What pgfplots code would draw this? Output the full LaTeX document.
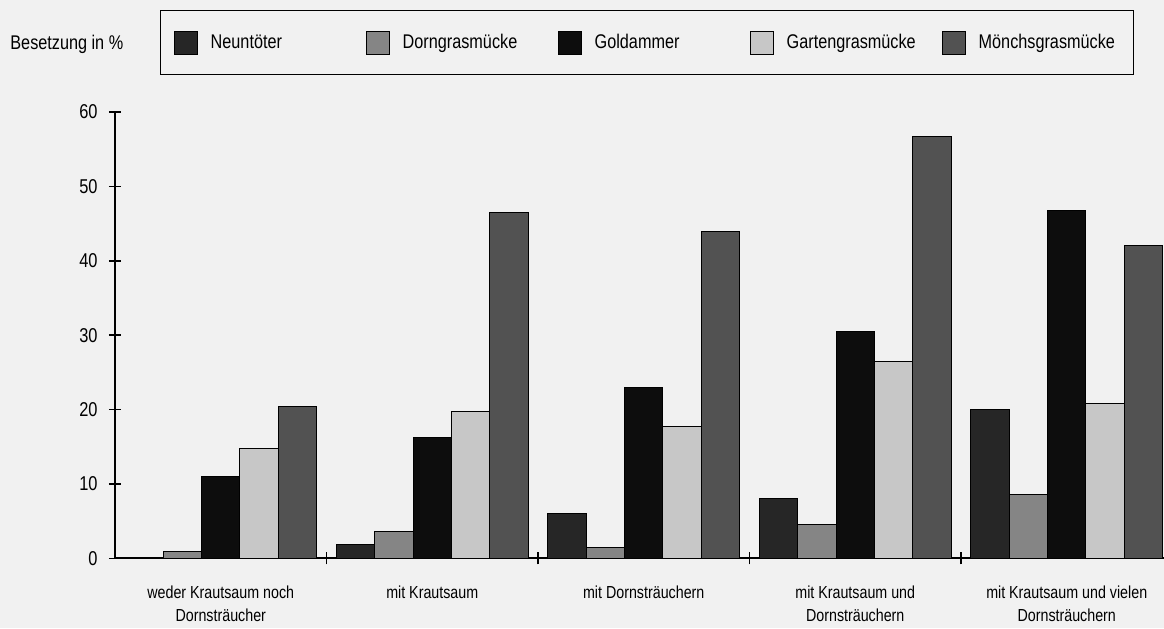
\documentclass[border=0pt]{standalone}
\usepackage{pgfplots}
\pgfplotsset{compat=1.18}
\usepackage{fontspec}
\setmainfont{Liberation Sans}[FakeStretch=0.82]
\definecolor{cNeun}{gray}{0.15}
\definecolor{cDorn}{gray}{0.52}
\definecolor{cGold}{gray}{0.05}
\definecolor{cGart}{gray}{0.78}
\definecolor{cMoen}{gray}{0.32}
\definecolor{paper}{gray}{0.945}
\begin{document}
\begin{tikzpicture}
\fill[paper] (0,0) rectangle (582pt,314pt);
\node[anchor=base west, inner sep=0pt, font=\fontsize{9.9}{12}\selectfont] at (5pt,289pt) {Besetzung in \%};
\begin{axis}[
  at={(57.5pt,34.85pt)}, anchor=south west,
  scale only axis, width=528.75pt, height=223.15pt,
  xmin=0, xmax=5, ymin=0, ymax=60,
  axis x line*=bottom, axis y line*=left,
  xtick pos=bottom, ytick pos=left,
  axis line style={-, line width=0.9pt},
  every tick/.style={black, line width=0.8pt},
  tick align=center, major tick length=6pt,
  xtick style={yshift=3pt},
  ytick={0,10,20,30,40,50,60},
  yticklabel style={font=\fontsize{10}{12}\selectfont, inner sep=0pt, xshift=-5.5pt},
  /pgf/number format/assume math mode=true,
  xtick={1,2,3,4}, xticklabels={,,,},
  extra x ticks={0.5,1.5,2.5,3.5,4.5},
  extra x tick labels={{weder Krautsaum noch\\Dornsträucher},{mit Krautsaum},{mit Dornsträuchern},{mit Krautsaum und\\Dornsträuchern},{mit Krautsaum und vielen\\Dornsträuchern}},
  extra x tick style={major tick length=0pt},
  xticklabel style={font=\fontsize{8.7}{11.5}\selectfont, align=center, inner sep=0pt, yshift=-13.35pt, anchor=north},
  ybar=0pt, bar width=0.182,
  sq legend/.style={legend image code/.code={\draw[##1, line width=0.5pt] (0pt,-5.75pt) rectangle (11.5pt,5.75pt);}},
  legend columns=5,
  legend style={at={(0.04255,1.2286)}, anchor=north west, draw=black, line width=0.7pt, fill=none,
    inner xsep=6.5pt, inner ysep=10pt, column sep=6.5pt,
    nodes={inner sep=0pt, text width=71pt, align=left, font=\fontsize{9.9}{12}\selectfont}},
]
\addplot[fill=cNeun, draw=black, line width=0.5pt, sq legend] coordinates {(0.5,0) (1.5,1.9) (2.5,6.0) (3.5,8.1) (4.5,20.0)};
\addplot[fill=cDorn, draw=black, line width=0.5pt, sq legend] coordinates {(0.5,0.9) (1.5,3.6) (2.5,1.4) (3.5,4.6) (4.5,8.6)};
\addplot[fill=cGold, draw=black, line width=0.5pt, sq legend] coordinates {(0.5,11.0) (1.5,16.3) (2.5,23.0) (3.5,30.5) (4.5,46.8)};
\addplot[fill=cGart, draw=black, line width=0.5pt, sq legend] coordinates {(0.5,14.8) (1.5,19.8) (2.5,17.7) (3.5,26.4) (4.5,20.8)};
\addplot[fill=cMoen, draw=black, line width=0.5pt, sq legend] coordinates {(0.5,20.4) (1.5,46.5) (2.5,43.9) (3.5,56.7) (4.5,42.1)};
\legend{Neuntöter, Dorngrasmücke, Goldammer, Gartengrasmücke, Mönchsgrasmücke}
\end{axis}
\pgfresetboundingbox
\path[use as bounding box] (0,0) rectangle (582pt,314pt);
\end{tikzpicture}
\end{document}
